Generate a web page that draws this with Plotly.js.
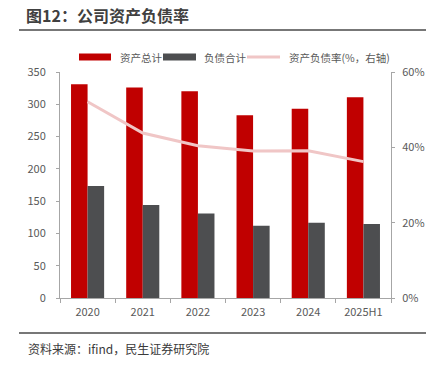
<!DOCTYPE html>
<html>
<head>
<meta charset="utf-8">
<script src="https://cdn.plot.ly/plotly-3.0.1.min.js"></script>
<style>html,body{margin:0;padding:0;background:#fff;}#chart{width:437px;height:366px;}</style>
</head>
<body>
<div id="chart"></div>
<script>
const categories = ["2020", "2021", "2022", "2023", "2024", "2025H1"];
const totalAssets = [331, 326, 320, 283, 293, 311];
const totalLiabilities = [173.5, 144, 131, 112, 116.5, 114.5];
const debtRatio = [0.521, 0.438, 0.404, 0.390, 0.391, 0.362];
const seriesNames = ["资产总计", "负债合计", "资产负债率(%，右轴)"];
const chartTitle = "图12：公司资产负债率";
const sourceText = "资料来源：ifind，民生证券研究院";

const W = 437, H = 366;
const M = {l: 60, r: 46, t: 72, b: 68};
const pw = W - M.l - M.r, ph = H - M.t - M.b;
const px = x => (x - M.l) / pw;
const py = y => (H - M.b - y) / ph;

const FONT = '"Noto Sans CJK SC", "Noto Sans", sans-serif';
const RED = '#c00000', GRAY = '#4d4e50', PINK = '#f0c6c6';

const traces = [
  {type: 'bar', x: categories, y: totalAssets, name: seriesNames[0], marker: {color: RED}, hoverinfo: 'none'},
  {type: 'bar', x: categories, y: totalLiabilities, name: seriesNames[1], marker: {color: GRAY}, hoverinfo: 'none'},
  {type: 'scatter', mode: 'lines', x: categories, y: debtRatio, name: seriesNames[2], yaxis: 'y2',
   line: {color: PINK, width: 3}, hoverinfo: 'none'}
];

const shapes = [
  {type: 'line', xref: 'paper', yref: 'paper', x0: px(19), x1: px(426), y0: py(30), y1: py(30), line: {color: '#4a4a4a', width: 1.5}},
  {type: 'line', xref: 'paper', yref: 'paper', x0: px(19), x1: px(426), y0: py(333), y1: py(333), line: {color: '#4a4a4a', width: 1.5}},
  {type: 'rect', xref: 'paper', yref: 'paper', x0: px(79), x1: px(111), y0: py(60.5), y1: py(53.5), fillcolor: RED, line: {width: 0}},
  {type: 'rect', xref: 'paper', yref: 'paper', x0: px(163), x1: px(196), y0: py(60.5), y1: py(53.5), fillcolor: GRAY, line: {width: 0}},
  {type: 'line', xref: 'paper', yref: 'paper', x0: px(247), x1: px(280), y0: py(57), y1: py(57), line: {color: PINK, width: 3}}
];

const annotations = [
  {xref: 'paper', yref: 'paper', x: px(118), y: py(57), text: seriesNames[0], showarrow: false, xanchor: 'left', yanchor: 'middle', font: {family: FONT, size: 10.5, color: '#595959'}},
  {xref: 'paper', yref: 'paper', x: px(202), y: py(57), text: seriesNames[1], showarrow: false, xanchor: 'left', yanchor: 'middle', font: {family: FONT, size: 10.5, color: '#595959'}},
  {xref: 'paper', yref: 'paper', x: px(287), y: py(57), text: seriesNames[2], showarrow: false, xanchor: 'left', yanchor: 'middle', font: {family: FONT, size: 10.5, color: '#595959'}},
  {xref: 'paper', yref: 'paper', x: px(26), y: py(348), text: sourceText, showarrow: false, xanchor: 'left', yanchor: 'middle', font: {family: FONT, size: 12, color: '#3a3a3a'}}
];

const axisCommon = {
  showgrid: false, zeroline: false, showline: true, linecolor: '#a6a6a6', linewidth: 1,
  ticks: 'outside', tickcolor: '#a6a6a6', ticklen: 3, tickfont: {family: FONT, size: 11, color: '#595959'}
};

const layout = {
  width: W, height: H,
  margin: M,
  paper_bgcolor: '#fff', plot_bgcolor: '#fff',
  showlegend: false,
  barmode: 'group', bargap: 0.4, bargroupgap: 0,
  title: {text: '<b>' + chartTitle + '</b>', xref: 'container', yref: 'container', x: 26 / W, xanchor: 'left', y: 1 - 16 / H, yanchor: 'middle',
          font: {family: FONT, size: 16, color: '#404040'}},
  xaxis: Object.assign({}, axisCommon, {type: 'category', tickson: 'boundaries', ticklen: 4, ticklabelstandoff: 4}),
  yaxis: Object.assign({}, axisCommon, {range: [0, 350], dtick: 50, tick0: 0, ticklabelstandoff: 8}),
  yaxis2: Object.assign({}, axisCommon, {overlaying: 'y', side: 'right', range: [0, 0.6], dtick: 0.2, tick0: 0, tickformat: '.0%', ticklabelstandoff: 5}),
  shapes: shapes,
  annotations: annotations
};

Plotly.newPlot('chart', traces, layout, {displayModeBar: false, staticPlot: true});
</script>
</body>
</html>
